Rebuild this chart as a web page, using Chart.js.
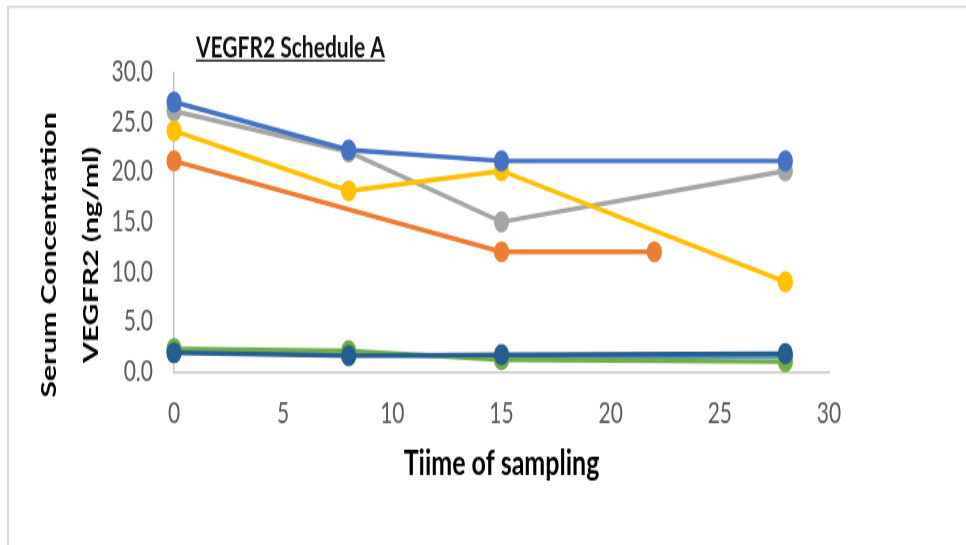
<!DOCTYPE html>
<html>
<head>
<meta charset="utf-8">
<script src="https://cdn.jsdelivr.net/npm/chart.js@4.4.1/dist/chart.umd.min.js"></script>
<style>
  body { margin: 0; background: #fff; overflow: hidden; }
</style>
</head>
<body>
<!-- the source picture is stretched vertically: draw at 966x389 and show it at 966x545 -->
<canvas id="myChart" width="966" height="389" style="width:966px;height:545px;display:block"></canvas>
<script>
// sampling days
const days = [0, 8, 15, 28];
const orangeDays = [0, 15, 22];

// VEGFR2 serum concentration (ng/ml) per patient
const blueValues = [27.0, 22.2, 21.1, 21.1];
const yellowValues = [24.1, 18.1, 20.1, 9.0];
const grayValues = [26.1, 22.0, 15.0, 20.1];
const orangeValues = [21.1, 12.0, 12.0];
const darkBlueValues = [1.9, 1.6, 1.7, 1.8];
const greenValues = [2.3, 2.1, 1.2, 1.0];
const lightBlueValues = [2.1, 1.7, 1.5, 1.5];

const xTickLabels = ['0', '5', '10', '15', '20', '25', '30'];
const yTickLabels = ['0.0', '5.0', '10.0', '15.0', '20.0', '25.0', '30.0'];

function toPoints(xs, ys) {
    return xs.map((x, i) => ({ x: x, y: ys[i] }));
}

function makeSet(xs, ys, color) {
    return {
        data: toPoints(xs, ys),
        borderColor: color,
        backgroundColor: color,
        pointBackgroundColor: color,
        pointBorderColor: color,
        borderWidth: 3.4,
        pointRadius: 7,
        pointBorderWidth: 1.2,
        tension: 0,
        clip: false
    };
}

// frame, title and the two-line y title
const extras = {
    id: 'extras',
    beforeDraw(chart) {
        const ctx = chart.ctx;
        ctx.save();
        ctx.fillStyle = '#ffffff';
        ctx.fillRect(0, 0, chart.width, chart.height);
        ctx.fillStyle = '#d9d9d9';
        ctx.fillRect(7, 4, chart.width, 1.5);
        ctx.fillRect(7, 4, 2, chart.height);
        ctx.restore();
    },
    afterDraw(chart) {
        const ctx = chart.ctx;
        ctx.save();
        ctx.fillStyle = '#111111';
        ctx.font = 'bold 21px Lato';
        ctx.textAlign = 'left';
        ctx.textBaseline = 'alphabetic';
        const title = 'VEGFR2 Schedule A';
        ctx.fillText(title, 196, 40.5);
        const w = ctx.measureText(title).width;
        ctx.fillRect(196, 42.6, w, 1.4);

        ctx.fillStyle = '#000000';
        ctx.font = 'bold 21.5px Lato';
        ctx.textAlign = 'center';
        ctx.textBaseline = 'middle';
        ctx.translate(49, 182);
        ctx.rotate(-Math.PI / 2);
        ctx.fillText('Serum Concentration', 0, 0);
        ctx.rotate(Math.PI / 2);
        ctx.translate(42, 0);
        ctx.rotate(-Math.PI / 2);
        ctx.fillText('VEGFR2 (ng/ml)', 0, 0);
        ctx.restore();
    }
};

const ctx = document.getElementById('myChart').getContext('2d');
new Chart(ctx, {
    type: 'line',
    data: {
        datasets: [
            makeSet(days, blueValues, '#4472C4'),
            makeSet(days, yellowValues, '#FFC000'),
            makeSet(days, grayValues, '#A5A5A5'),
            makeSet(orangeDays, orangeValues, '#ED7D31'),
            makeSet(days, darkBlueValues, '#255E91'),
            makeSet(days, greenValues, '#70AD47'),
            makeSet(days, lightBlueValues, '#5B9BD5')
        ]
    },
    options: {
        responsive: false,
        animation: false,
        layout: {
            padding: { top: 51.4, right: 137, bottom: 0, left: 0 }
        },
        scales: {
            x: {
                type: 'linear',
                min: 0,
                max: 30,
                afterFit: scale => { scale.height = 123.7; },
                grid: { display: false, drawTicks: false },
                border: { display: true, color: '#c6c6c6', width: 1.5 },
                ticks: {
                    stepSize: 5,
                    padding: 17,
                    color: '#595959',
                    font: { family: 'Lato', size: 21 },
                    callback: (v, i) => xTickLabels[i]
                },
                title: {
                    display: true,
                    text: 'Tiime of sampling',
                    color: '#000000',
                    font: { family: 'Lato', size: 25, weight: 'bold' },
                    padding: { top: 0, bottom: 43 }
                }
            },
            y: {
                min: 0,
                max: 30,
                afterFit: scale => { scale.width = 174; },
                grid: { display: false, drawTicks: false },
                border: { display: true, color: '#c6c6c6', width: 1.5 },
                ticks: {
                    stepSize: 5,
                    padding: 21,
                    color: '#595959',
                    font: { family: 'Lato', size: 21 },
                    callback: (v, i) => yTickLabels[i]
                }
            }
        },
        plugins: {
            legend: { display: false },
            tooltip: { enabled: false }
        }
    },
    plugins: [extras]
});
</script>
</body>
</html>
